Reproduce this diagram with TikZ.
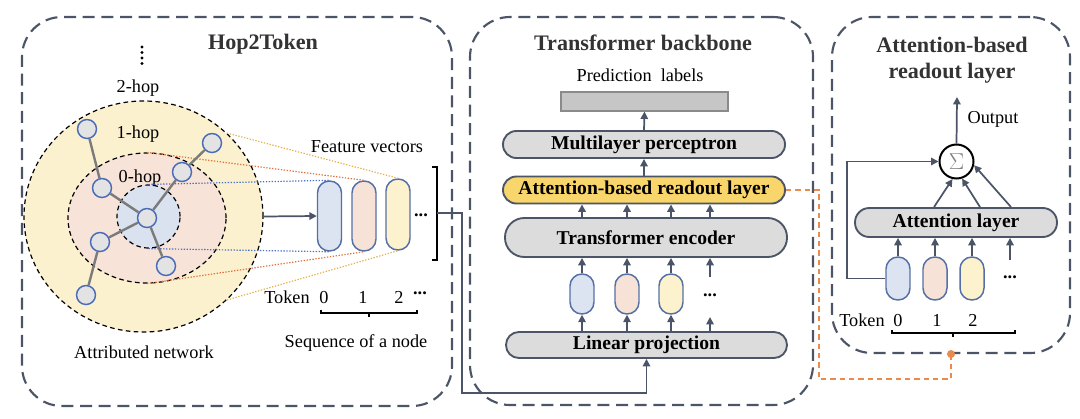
\documentclass[tikz,border=0pt]{standalone}
\usepackage{fontspec}
\setmainfont{Liberation Serif}
\usetikzlibrary{arrows.meta,calc,shapes.geometric}
\definecolor{frame}{HTML}{4B5567}
\definecolor{ttl}{HTML}{333333}
\definecolor{capfill}{HTML}{DCDCDC}
\definecolor{rofill}{HTML}{F8D66C}
\definecolor{tokB}{HTML}{DCE3F1}
\definecolor{tokP}{HTML}{F6E2D6}
\definecolor{tokY}{HTML}{FDF2CE}
\definecolor{tokline}{HTML}{5670A6}
\definecolor{hopY}{HTML}{FCF1CE}
\definecolor{hopP}{HTML}{F7E3D7}
\definecolor{hopB}{HTML}{DAE2EF}
\definecolor{gfill}{HTML}{E3E3E3}
\definecolor{gline}{HTML}{4A6CB8}
\definecolor{gedgec}{HTML}{7B7B7B}
\definecolor{dotB}{HTML}{4A6FC8}
\definecolor{dotO}{HTML}{E0703C}
\definecolor{dotY}{HTML}{E3B24A}
\definecolor{ora}{HTML}{EA8A4C}
\definecolor{prfill}{HTML}{C6C6C6}
\definecolor{prline}{HTML}{8A8A8A}
\begin{document}
\begin{tikzpicture}[x=0.75pt,y=-0.75pt,
  framebox/.style={draw=frame, line width=1.6pt, dash pattern=on 9pt off 5pt, rounded corners=30pt, inner sep=0pt},
  ttlfont/.style={font=\fontsize{16.6pt}{19pt}\selectfont\bfseries, text=ttl, inner sep=0pt, anchor=base},
  txt/.style={font=\fontsize{13.7pt}{16pt}\selectfont, inner sep=0pt, anchor=base},
  dots/.style={font=\fontsize{13.7pt}{16pt}\selectfont\bfseries, inner sep=0pt, anchor=center},
  capsule/.style={draw=frame, fill=capfill, line width=1.4pt, inner sep=0pt, minimum height=#1*0.75pt, rounded corners=#1*0.37pt, font=\fontsize{14.7pt}{17pt}\selectfont\bfseries},
  vtok/.style 2 args={draw=tokline, fill=#1, line width=1.1pt, minimum width=24*0.75pt, minimum height=#2*0.75pt, rounded corners=8.9pt, inner sep=0pt},
  hop/.style={ellipse, draw=black, line width=0.9pt, dash pattern=on 3.5pt off 2.5pt, inner sep=0pt},
  gnode/.style={circle, draw=gline, fill=gfill, line width=1.1pt, minimum size=19*0.75pt, inner sep=0pt},
  gedge/.style={draw=gedgec, line width=1.8pt},
  proj/.style={line width=0.9pt, dash pattern=on 1pt off 1.2pt},
  arr/.style={draw=frame, line width=1.3pt, -{Triangle[length=5.5pt,width=5.5pt]}},
  brk/.style={draw=black, line width=0.8pt},
]
\useasboundingbox (0,0) rectangle (1080,418);
% frames
\node[framebox, minimum width=430*0.75pt, minimum height=389*0.75pt] (f1) at (237,211.5) {};
\node[framebox, minimum width=343*0.75pt, minimum height=388*0.75pt] (f2) at (641.5,211) {};
\node[framebox, minimum width=238*0.75pt, minimum height=336*0.75pt] (f3) at (951,185) {};
% titles
\node[ttlfont] (t1) at (263,49) {Hop2Token};
\node[ttlfont] (t2) at (643,50) {Transformer backbone};
\node[ttlfont] (t3a) at (952,52) {Attention-based};
\node[ttlfont] (t3b) at (952,78) {readout layer};
% ---------- Hop2Token ----------
\foreach \yy in {47,52.5,58,63.5} \fill (142,\yy) circle[radius=1.3pt];
\node[txt] (l2) at (138,92) {2-hop};
\node[hop, fill=hopY, minimum width=239*0.75pt, minimum height=231*0.75pt] (h2) at (143.5,216.5) {};
\node[hop, fill=hopP, minimum width=158*0.75pt, minimum height=130*0.75pt] (h1) at (147,218) {};
\node[hop, fill=hopB, minimum width=63*0.75pt, minimum height=63*0.75pt] (h0) at (148.5,216.5) {};
\node[txt] (l1) at (138,138) {1-hop};
\node[txt] (l0) at (140,182) {0-hop};
% feature vectors
\node[vtok={tokB}{70}] (v0) at (329.5,216) {};
\node[vtok={tokP}{70}] (v1) at (364,216) {};
\node[vtok={tokY}{71}] (v2) at (398,214.5) {};
\node[dots] (vd) at (421,215) {...};
\node[txt] (fv) at (367,152) {Feature vectors};
% projection lines
\draw[proj, dotB] (h0.north) -- (v0.north);
\draw[proj, dotB] (h0.south) -- (v0.south);
\draw[proj, dotO] (h1.north) -- (v1.north);
\draw[proj, dotO] (h1.south) -- (v1.south);
\draw[proj, dotY] (h2.45) -- (v2.north);
\draw[proj, dotY] (h2.-45) -- (v2.south);
% graph
\node[gnode] (c) at (147,218) {};
\node[gnode] (n1) at (87,129) {};
\node[gnode] (n2) at (102,188) {};
\node[gnode] (n3) at (182,172) {};
\node[gnode] (n4) at (212,143) {};
\node[gnode] (n5) at (100,242) {};
\node[gnode] (n6) at (166,266) {};
\node[gnode] (n7) at (86,295) {};
\draw[gedge] (c) -- (n2);
\draw[gedge] (n2) -- (n1);
\draw[gedge] (c) -- (n3);
\draw[gedge] (n3) -- (n4);
\draw[gedge] (c) -- (n5);
\draw[gedge] (n5) -- (n7);
\draw[gedge] (c) -- (n6);
\draw[arr] (h2.east) -- (v0.west);
\node[txt] (an) at (144,358) {Attributed network};
% bracket
\coordinate (bm) at (437,213);
\draw[brk] (432,167) -- (437,167) -- (437,260) -- (432,260);
% token labels
\node[txt] (tk) at (287,303) {Token};
\node[txt] (k0) at (324,303) {0};
\node[txt] (k1) at (363,303) {1};
\node[txt] (k2) at (399,303) {2};
\node[dots] (kd) at (420,293) {...};
\draw[brk] (321,309.5) -- (321,313) -- (417,313) -- (417,309.5);
\draw[brk] (369,313) -- (369,316.5);
\node[txt] (sq) at (356,347) {Sequence of a node};
% ---------- Transformer backbone ----------
\node[txt] (pl) at (640,81) {Prediction\ \ labels};
\node[draw=prline, fill=prfill, line width=0.9pt, minimum width=167*0.75pt, minimum height=19*0.75pt, inner sep=0pt] (pr) at (644.5,101.5) {};
\node[capsule=27, minimum width=282*0.75pt] (mlp) at (644,144.5) {Multilayer perceptron};
\node[capsule=27, minimum width=282*0.75pt, fill=rofill] (ro) at (644,190) {Attention-based readout layer};
\node[capsule=39, minimum width=282*0.75pt] (enc) at (646,237.5) {Transformer encoder};
\node[capsule=26, minimum width=281*0.75pt] (lp) at (646.5,345) {Linear projection};
\node[vtok={tokB}{40}] (t0) at (582,294) {};
\node[vtok={tokP}{40}] (tt1) at (627,294) {};
\node[vtok={tokY}{40}] (tt2) at (671,294) {};
\node[dots] (td) at (710,295) {...};
\draw[arr] (mlp.north) -- (pr.south);
\draw[arr] (ro.north) -- (mlp.south);
\foreach \n in {t0,tt1,tt2} {
  \draw[arr] (enc.north -| \n) -- (ro.south -| \n);
  \draw[arr] (\n.north) -- (enc.south -| \n);
  \draw[arr] (lp.north -| \n) -- (\n.south);
}
\draw[arr] (enc.north -| td) -- (ro.south -| td);
\draw[arr] ($(td)+(0,-18)$) -- (enc.south -| td);
\draw[arr] (lp.north -| td) -- ($(td)+(0,22)$);
% input connector
\draw[arr] (bm) -| (462,393) -| (lp.south);
% orange link
\coordinate (od) at (951,354);
\draw[draw=ora, line width=1.3pt, dash pattern=on 4pt off 3pt] (ro.east) -| (819,379) -| (od);
\fill[ora] (od) circle[radius=3pt];
% ---------- Readout ----------
\node[draw=black, fill=white, line width=1.5pt, circle, minimum size=34*0.75pt, inner sep=0pt, font=\fontsize{16pt}{18pt}\selectfont] (sig) at (956.5,161.5) {\textcolor{gray}{$\Sigma$}};
\coordinate (out) at (957,97);
\draw[arr] (sig.north) -- (out);
\node[txt] (ot) at (993,123) {Output};
\node[capsule=29, minimum width=202*0.75pt] (al) at (956,222.5) {Attention layer};
\node[vtok={tokB}{43}] (r0) at (898,278.5) {};
\node[vtok={tokP}{43}] (r1) at (935,278.5) {};
\node[vtok={tokY}{43}] (r2) at (972,278.5) {};
\node[dots] (rd) at (1010,277) {...};
\foreach \n in {r0,r1,r2} \draw[arr] (\n.north) -- (al.south -| \n);
\draw[arr] ($(rd)+(0,-17)$) -- (al.south -| rd);
\coordinate (a1) at (934,0);
\coordinate (a2) at (980,0);
\coordinate (a3) at (1011,0);
\draw[arr] (al.north -| a1) -- (sig.-103);
\draw[arr] (al.north -| a2) -- (sig.-72);
\draw[arr] (al.north -| a3) -- (sig.-12);
\draw[arr] (r0.west) -- ++(-38,0) |- (sig.west);
\node[txt] (rtk) at (862,326) {Token};
\node[txt] (rk0) at (898,326) {0};
\node[txt] (rk1) at (937,326) {1};
\node[txt] (rk2) at (973,326) {2};
\draw[brk] (892,330) -- (892,333) -- (1015,333) -- (1015,330);
\draw[brk] (953,333) -- (953,336.5);
\end{tikzpicture}
\end{document}
